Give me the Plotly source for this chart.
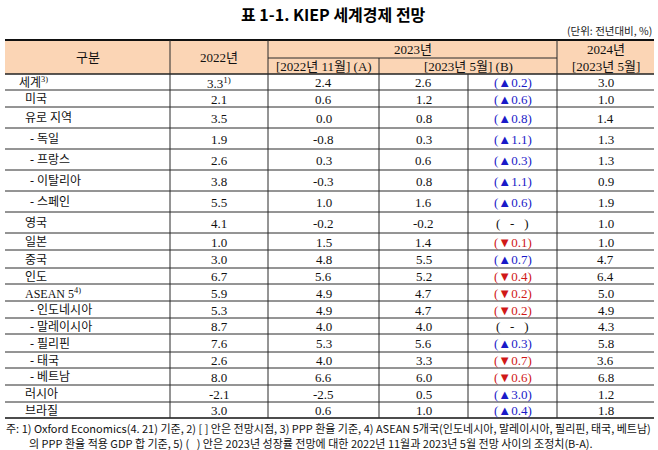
import plotly.graph_objects as go

# ---------------- data ----------------
regions = ["세계<sup>3)</sup>", "미국", "유로 지역", "- 독일", "- 프랑스", "- 이탈리아", "- 스페인",
           "영국", "일본", "중국", "인도", "ASEAN 5<sup>4)</sup>", "- 인도네시아", "- 말레이시아",
           "- 필리핀", "- 태국", "- 베트남", "러시아", "브라질"]
y2022 = [3.3, 2.1, 3.5, 1.9, 2.6, 3.8, 5.5, 4.1, 1.0, 3.0, 6.7, 5.9, 5.3, 8.7, 7.6, 2.6, 8.0, -2.1, 3.0]
y2023_nov = [2.4, 0.6, 0.0, -0.8, 0.3, -0.3, 1.0, -0.2, 1.5, 4.8, 5.6, 4.9, 4.9, 4.0, 5.3, 4.0, 6.6, -2.5, 0.6]
y2023_may = [2.6, 1.2, 0.8, 0.3, 0.6, 0.8, 1.6, -0.2, 1.4, 5.5, 5.2, 4.7, 4.7, 4.0, 5.6, 3.3, 6.0, 0.5, 1.0]
revision = [0.2, 0.6, 0.8, 1.1, 0.3, 1.1, 0.6, 0.0, -0.1, 0.7, -0.4, -0.2, -0.2, 0.0, 0.3, -0.7, -0.6, 3.0, 0.4]
y2024 = [3.0, 1.0, 1.4, 1.3, 1.3, 0.9, 1.9, 1.0, 1.0, 4.7, 6.4, 5.0, 4.9, 4.3, 5.8, 3.6, 6.8, 1.2, 1.8]
notes_2022 = {0: "1)"}

NB = "\u00a0"
title = "표 1-1. KIEP 세계경제 전망"
unit = "(단위: 전년대비, %)"
footnote1 = "주: 1) Oxford Economics(4. 21) 기준, 2) [ ] 안은 전망시점, 3) PPP 환율 기준, 4) ASEAN 5개국(인도네시아, 말레이시아, 필리핀, 태국, 베트남)"
footnote2 = f"의 PPP 환율 적용 GDP 합 기준, 5) ({NB}{NB}{NB}) 안은 2023년 성장률 전망에 대한 2022년 11월과 2023년 5월 전망 사이의 조정치(B-A)."

# ---------------- layout geometry (pixels) ----------------
W, H = 658, 450
X_L, X_R = 5, 654
col_edges = [X_L, 170, 268, 379, 468, 557, X_R]
Y_TOP, Y_MID, Y_HEAD = 40, 58, 74
row_edges = [Y_HEAD, 90, 107, 128, 149, 170, 191, 212, 233, 250, 268, 284, 301, 318, 334, 352, 368, 385, 402, 418]
indent = [17, 23, 23, 28, 28, 28, 28, 23, 23, 23, 23, 23, 28, 28, 28, 28, 28, 23, 23]

SERIF = "Liberation Serif, Noto Sans CJK KR, serif"
SANS = "Noto Sans CJK KR, sans-serif"
FS = 13
BLUE = "#1a1ac8"
RED = "#d01818"
LINE = "#2a2a2a"

fig = go.Figure()
shapes = []
ann = []

def text(x, y, s, size=FS, family=SERIF, color="#111111", xanchor="center", bold=False):
    ann.append(dict(x=x, y=y, xref="x", yref="y", text=f"<b>{s}</b>" if bold else s,
                    showarrow=False, xanchor=xanchor, yanchor="middle",
                    font=dict(size=size, family=family, color=color)))

def hline(y, x0, x1, w=1, color=LINE):
    shapes.append(dict(type="line", xref="x", yref="y", x0=x0, x1=x1, y0=y, y1=y,
                       line=dict(color=color, width=w)))

def vline(x, y0, y1, w=1, color=LINE):
    shapes.append(dict(type="line", xref="x", yref="y", x0=x, x1=x, y0=y0, y1=y1,
                       line=dict(color=color, width=w)))

# header fill
shapes.append(dict(type="rect", xref="x", yref="y", x0=X_L, x1=X_R, y0=Y_TOP, y1=Y_HEAD,
                   fillcolor="#fbd5b5", line=dict(width=0), layer="below"))

# horizontal lines
hline(Y_TOP, X_L, X_R, w=2, color="#111111")
hline(Y_MID, col_edges[2], col_edges[5])
hline(Y_HEAD, X_L, X_R, w=1.5, color="#222222")
for y in row_edges[1:-1]:
    hline(y, X_L, X_R)
hline(row_edges[-1], X_L, X_R, w=1.5, color="#111111")

# vertical lines
bottom = row_edges[-1]
vline(col_edges[1], Y_TOP, bottom)
vline(col_edges[2], Y_TOP, bottom)
vline(col_edges[3], Y_MID, bottom)
vline(col_edges[4], Y_HEAD, bottom)
vline(col_edges[5], Y_TOP, bottom)

def cx(i, j=None):
    j = i + 1 if j is None else j
    return (col_edges[i] + col_edges[j]) / 2

# header text
yh1 = (Y_TOP + Y_MID) / 2
yh2 = (Y_MID + Y_HEAD) / 2
yhc = (Y_TOP + Y_HEAD) / 2
text(cx(0), yhc, "구분")
text(cx(1), yhc, "2022년")
text(cx(2, 5), yh1, "2023년")
text(cx(2), yh2, "[2022년 11월] (A)")
text(cx(3, 5), yh2, "[2023년 5월] (B)")
text(cx(5), yh1, "2024년")
text(cx(5), yh2, "[2023년 5월]")

def fmt(v):
    return f"{v:.1f}"

for i, name in enumerate(regions):
    yc = (row_edges[i] + row_edges[i + 1]) / 2 + 0.5
    text(indent[i], yc, name, size=12, xanchor="left")
    s2022 = fmt(y2022[i])
    if i in notes_2022:
        s2022 += f"<sup>{notes_2022[i]}</sup>"
    text(cx(1), yc, s2022)
    text(cx(2), yc, fmt(y2023_nov[i]))
    text(cx(3), yc, fmt(y2023_may[i]))
    r = revision[i]
    if r > 0:
        text(cx(4), yc, f"(▲{r:.1f})", color=BLUE)
    elif r < 0:
        text(cx(4), yc, f"(▼{abs(r):.1f})", color=RED)
    else:
        text(cx(4), yc, f"({NB}{NB}{NB}-{NB}{NB}{NB})")
    text(cx(5), yc, fmt(y2024[i]))

# title, unit, footnotes
text(333, 14, title, size=16, family=SANS, bold=True, color="#000000")
text(X_R, 30, unit, size=10.5, family=SANS, xanchor="right", color="#222222")
text(4, 428, footnote1, size=11, family=SANS, xanchor="left", color="#111111")
text(27, 443, footnote2, size=11, family=SANS, xanchor="left", color="#111111")

fig.update_layout(
    width=W, height=H,
    margin=dict(l=0, r=0, t=0, b=0),
    paper_bgcolor="white", plot_bgcolor="white",
    xaxis=dict(range=[0, W], visible=False, fixedrange=True),
    yaxis=dict(range=[H, 0], visible=False, fixedrange=True),
    shapes=shapes, annotations=ann, showlegend=False,
)
fig.write_html("out.html", config={"displayModeBar": False},
               post_script="document.body.style.margin='0px';document.body.style.overflow='hidden';")
